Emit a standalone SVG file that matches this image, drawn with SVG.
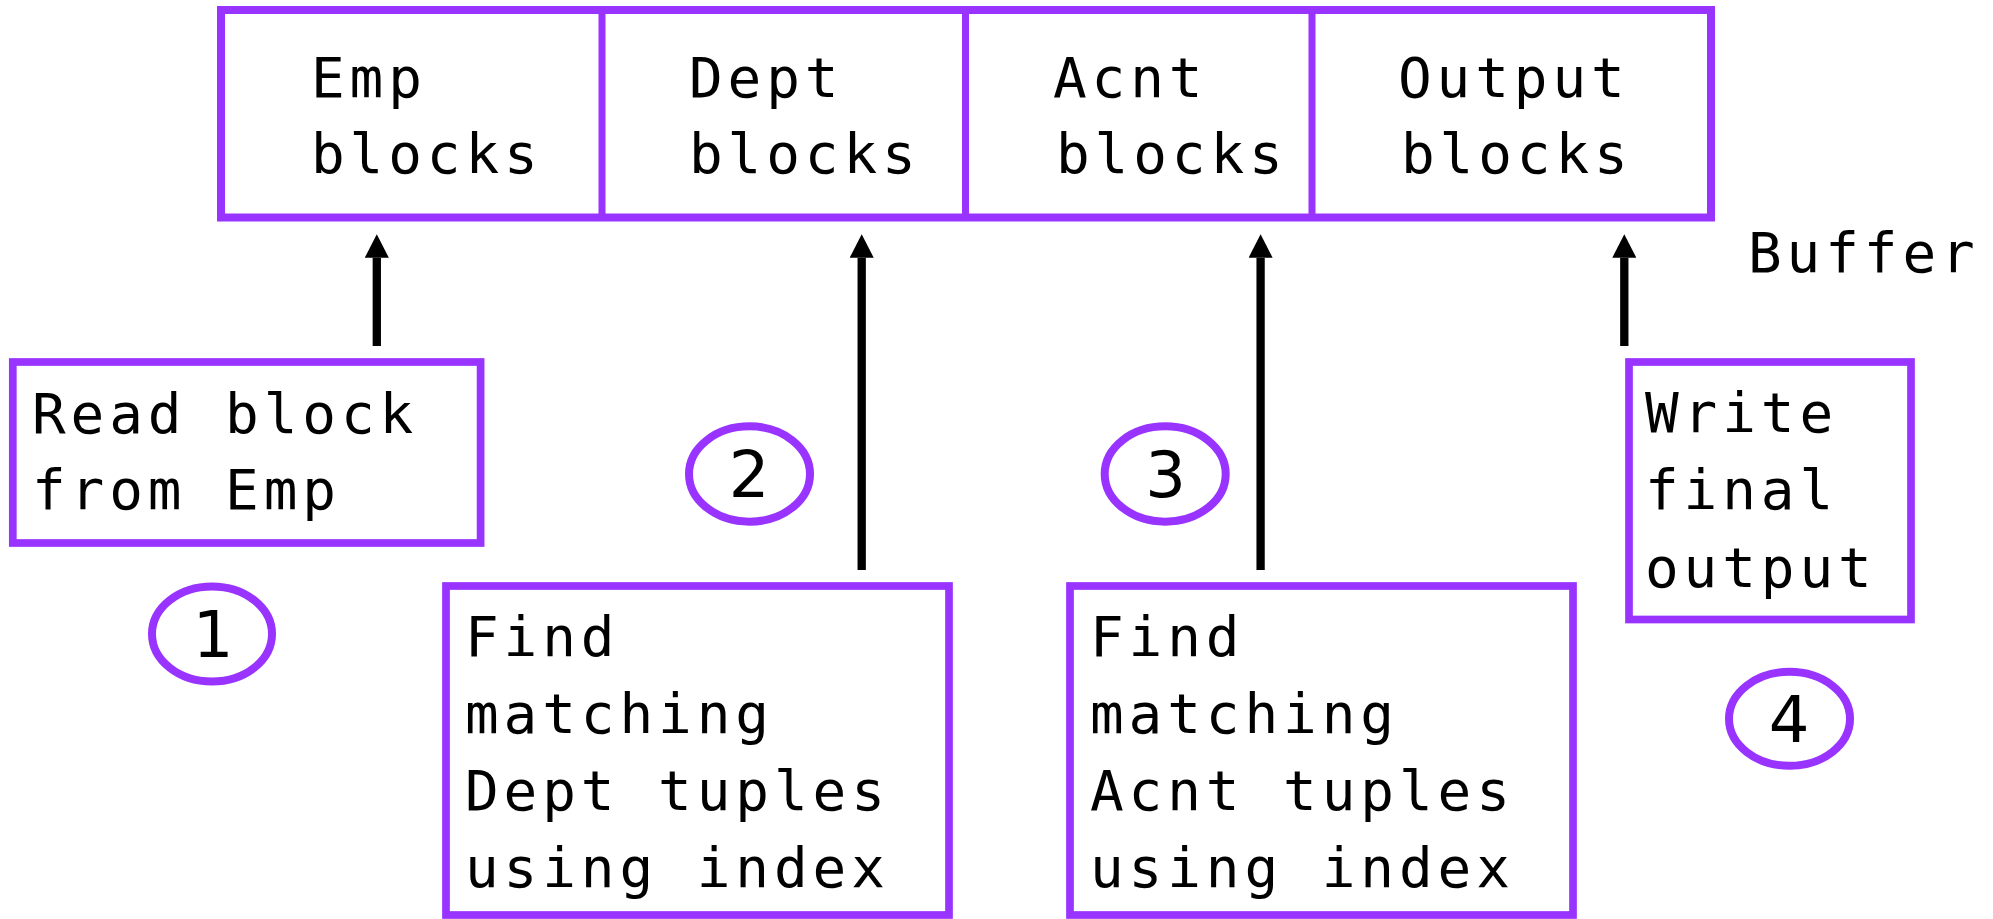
<svg xmlns="http://www.w3.org/2000/svg" width="1993" height="919" viewBox="0 0 1993 919">
  <style>
    .box { fill: #ffffff; stroke: #9933ff; stroke-width: 7.7; }
    .buf { fill: #ffffff; stroke: #9933ff; stroke-width: 8; }
    .div { stroke: #9933ff; stroke-width: 7; }
    .step { fill: #ffffff; stroke: #9933ff; stroke-width: 8; }
    .mono { font-family: "DejaVu Sans Mono", "Liberation Mono", monospace; font-size: 56px; letter-spacing: 4.9px; fill: #000000; }
    .num { font-family: "DejaVu Sans", "Liberation Sans", sans-serif; font-size: 64px; fill: #000000; text-anchor: middle; }
    .arrow { stroke: #000000; stroke-width: 8.3; fill: none; marker-end: url(#head); }
  </style>
  <defs>
    <marker id="head" markerUnits="userSpaceOnUse" markerWidth="24" markerHeight="24" viewBox="0 0 24 24" refX="0" refY="12" orient="auto">
      <path d="M0,0 L23.5,12 L0,24 Z" fill="#000000"/>
    </marker>
  </defs>

  <rect width="1993" height="919" fill="#ffffff"/>

  <!-- buffer pool split into four block areas -->
  <g id="buffer">
    <rect class="buf" x="221" y="10" width="1490" height="207.5"/>
    <line class="div" x1="602" y1="10" x2="602" y2="217.5"/>
    <line class="div" x1="965.5" y1="10" x2="965.5" y2="217.5"/>
    <line class="div" x1="1312" y1="10" x2="1312" y2="217.5"/>
    <text class="mono" x="311" y="97">Emp</text>
    <text class="mono" x="311" y="173">blocks</text>
    <text class="mono" x="689" y="97">Dept</text>
    <text class="mono" x="689" y="173">blocks</text>
    <text class="mono" x="1053" y="97">Acnt</text>
    <text class="mono" x="1056" y="173">blocks</text>
    <text class="mono" x="1398" y="97">Output</text>
    <text class="mono" x="1401" y="173">blocks</text>
  </g>
  <g id="buffer-label">
    <text class="mono" x="1748" y="272">Buffer</text>
  </g>

  <!-- step 1 -->
  <g id="read-emp">
    <rect class="box" x="12.8" y="362" width="467.8" height="181"/>
    <text class="mono" x="32" y="433">Read block</text>
    <text class="mono" x="32" y="509">from Emp</text>
  </g>
  <g id="step1">
    <ellipse class="step" cx="212" cy="634" rx="60" ry="47.5"/>
    <text class="num" x="213" y="657">1</text>
  </g>

  <!-- step 2 -->
  <g id="find-dept">
    <rect class="box" x="446" y="586" width="503" height="329"/>
    <text class="mono" x="465" y="656">Find</text>
    <text class="mono" x="465" y="733">matching</text>
    <text class="mono" x="465" y="810">Dept tuples</text>
    <text class="mono" x="465" y="887">using index</text>
  </g>
  <g id="step2">
    <ellipse class="step" cx="749.5" cy="474" rx="60.5" ry="47.7"/>
    <text class="num" x="749" y="497">2</text>
  </g>

  <!-- step 3 -->
  <g id="find-acnt">
    <rect class="box" x="1070" y="586" width="503" height="329"/>
    <text class="mono" x="1090" y="656">Find</text>
    <text class="mono" x="1090" y="733">matching</text>
    <text class="mono" x="1090" y="810">Acnt tuples</text>
    <text class="mono" x="1090" y="887">using index</text>
  </g>
  <g id="step3">
    <ellipse class="step" cx="1165.2" cy="474" rx="60.5" ry="47.7"/>
    <text class="num" x="1165.5" y="497">3</text>
  </g>

  <!-- step 4 -->
  <g id="write-output">
    <rect class="box" x="1629" y="362" width="282" height="257.5"/>
    <text class="mono" x="1645" y="432">Write</text>
    <text class="mono" x="1645" y="509">final</text>
    <text class="mono" x="1645" y="587">output</text>
  </g>
  <g id="step4">
    <ellipse class="step" cx="1789.5" cy="718.8" rx="60.5" ry="47"/>
    <text class="num" x="1789" y="742">4</text>
  </g>

  <!-- data flow into the buffer -->
  <g id="connectors">
    <line class="arrow" x1="376.8" y1="346" x2="376.8" y2="257.7"/>
    <line class="arrow" x1="861.7" y1="570" x2="861.7" y2="257.7"/>
    <line class="arrow" x1="1260.6" y1="570" x2="1260.6" y2="257.7"/>
    <line class="arrow" x1="1624.3" y1="346" x2="1624.3" y2="257.7"/>
  </g>
</svg>
